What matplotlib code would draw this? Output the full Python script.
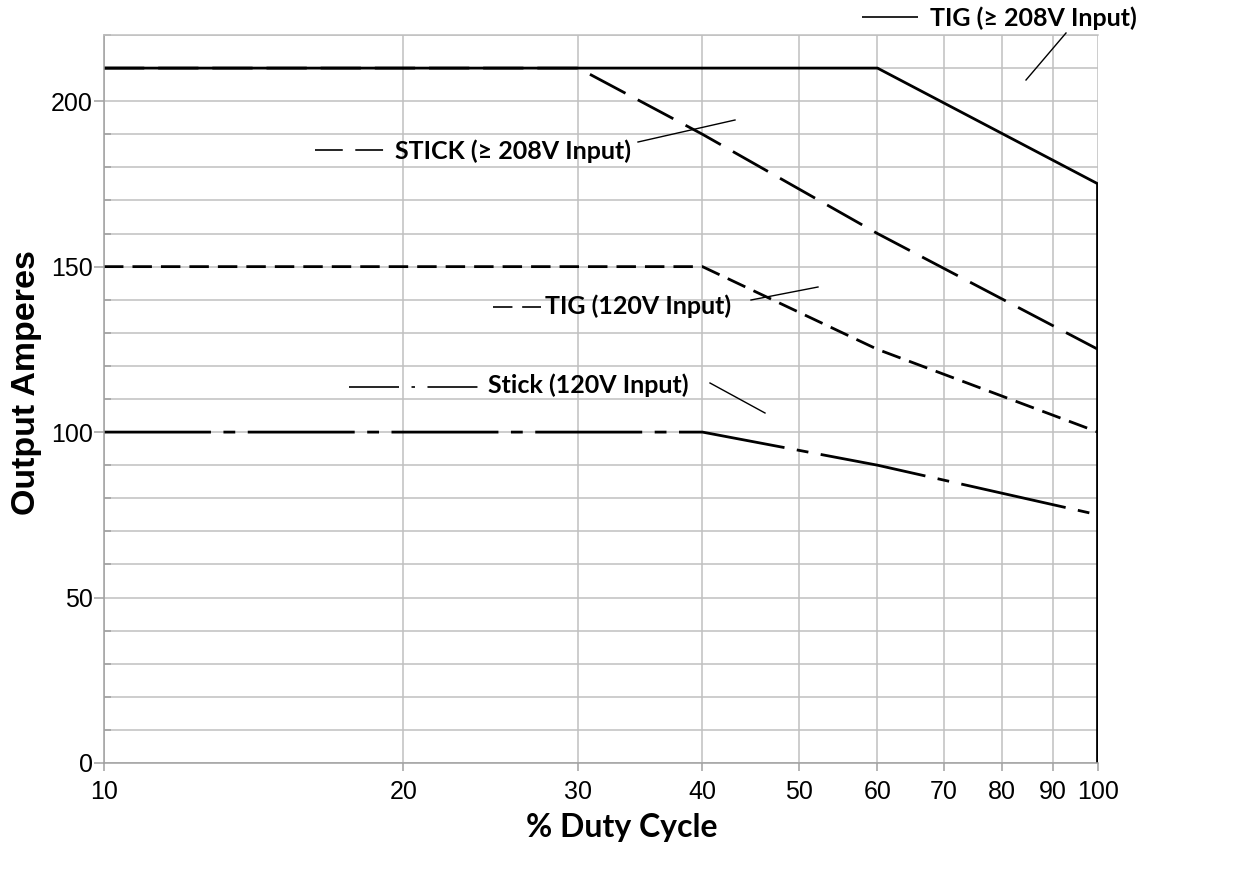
import matplotlib
matplotlib.use("Agg")
import matplotlib.pyplot as plt
from matplotlib.lines import Line2D
from matplotlib.ticker import FixedLocator, NullFormatter, NullLocator

plt.rcParams['lines.scale_dashes'] = False

# duty cycle curves
tig_hi_x = [10, 60, 100, 100]
tig_hi_y = [210, 210, 175, 0]
stick_hi_x = [10, 30, 40, 60, 100]
stick_hi_y = [210, 210, 190, 160, 125]
tig_lo_x = [10, 40, 60, 100]
tig_lo_y = [150, 150, 125, 100]
stick_lo_x = [10, 40, 60, 100]
stick_lo_y = [100, 100, 90, 75]

x_ticks = [10, 20, 30, 40, 50, 60, 70, 80, 90, 100]
y_ticks = [0, 50, 100, 150, 200]
y_grid = list(range(0, 230, 10))

W, H = 1256, 873
fig = plt.figure(figsize=(W / 100, H / 100), dpi=100)
ax = fig.add_axes([104 / W, 1 - 763 / H, 994 / W, 728 / H])

grid_c = '#c0c0c0'
ax.set_xscale('log')
ax.set_xlim(10, 100)
ax.set_ylim(0, 220)
ax.xaxis.set_major_locator(FixedLocator(x_ticks))
ax.xaxis.set_minor_locator(NullLocator())
ax.set_xticklabels([str(v) for v in x_ticks])
ax.xaxis.set_minor_formatter(NullFormatter())
ax.set_yticks(y_ticks)
ax.set_yticks(y_grid, minor=True)
ax.grid(True, which='major', axis='x', color=grid_c, lw=1.1)
ax.grid(True, which='both', axis='y', color=grid_c, lw=1.1)
ax.set_axisbelow(True)
for s in ax.spines.values():
    s.set_color('#a0a0a0')
    s.set_linewidth(1.1)
ax.spines['top'].set_color(grid_c)
ax.spines['right'].set_visible(False)
ax.tick_params(axis='y', which='major', direction='out', length=7, width=1.1,
               color='#a0a0a0', labelsize=18, pad=1)
ax.tick_params(axis='y', which='minor', direction='in', length=5, width=1.1, color='#a0a0a0')
ax.tick_params(axis='x', which='major', direction='out', length=6, width=1.1,
               color='#a0a0a0', labelsize=18, pad=6)
for lab in ax.get_xticklabels() + ax.get_yticklabels():
    lab.set_family('Liberation Sans')

lw = 2.0
ax.plot(stick_lo_x, stick_lo_y, color='black', lw=lw, dashes=(77, 9, 8.5, 9))
ax.plot(tig_lo_x, tig_lo_y, color='black', lw=lw, dashes=(14, 6.5))
ax.plot(stick_hi_x, stick_hi_y, color='black', lw=lw, dashes=(29, 10))
ax.plot(tig_hi_x, tig_hi_y, color='black', lw=lw, solid_capstyle='butt')
# the drop to zero at 100 % is drawn heavier
ax.plot(tig_hi_x[-2:], tig_hi_y[-2:], color='black', lw=2.6, solid_capstyle='butt')

fig.text(27 / W, 1 - 383 / H, 'Output Amperes', rotation=90, ha='center', va='center',
         fontsize=24.5, family='Liberation Sans', weight='bold')
fig.text(622 / W, 1 - 827 / H, '% Duty Cycle', ha='center', va='center',
         fontsize=23, family=['Lato', 'DejaVu Sans'], weight='bold')


def fp(x, y):
    # pixel from top-left -> figure fraction
    return x / W, 1 - y / H


def sample(x0, x1, y, dashes):
    (a, b), (c, d) = fp(x0, y), fp(x1, y)
    fig.add_artist(Line2D([a, c], [b, d], transform=fig.transFigure, color='black',
                          lw=1.2, dashes=dashes))


def leader(x0, y0, x1, y1):
    (a, b), (c, d) = fp(x0, y0), fp(x1, y1)
    fig.add_artist(Line2D([a, c], [b, d], transform=fig.transFigure, color='black', lw=1.0))


ann_font = dict(family=['Lato', 'DejaVu Sans'], weight='bold', color='black', fontsize=18,
                va='center', ha='left')

# TIG >= 208V
fig.text(*fp(930, 18), 'TIG (≥ 208V Input)', **ann_font)
sample(862, 918, 17, (100, 1))
leader(1066, 33, 1026, 80)

# STICK >= 208V
fig.text(*fp(395, 151), 'STICK (≥ 208V Input)', **ann_font)
sample(315, 384, 150, (20, 9))
leader(638, 142, 735, 120)

# TIG 120V
fig.text(*fp(545, 306), 'TIG (120V Input)', fontstretch='normal', **ann_font)
sample(493, 541, 307, (14, 7))
leader(751, 300, 818, 287)

# Stick 120V
fig.text(*fp(488, 385), 'Stick (120V Input)', **ann_font)
sample(349, 478, 387, (36, 9, 2.5, 9))
leader(710, 383, 765, 413)

fig.savefig('out.png', dpi=100)
